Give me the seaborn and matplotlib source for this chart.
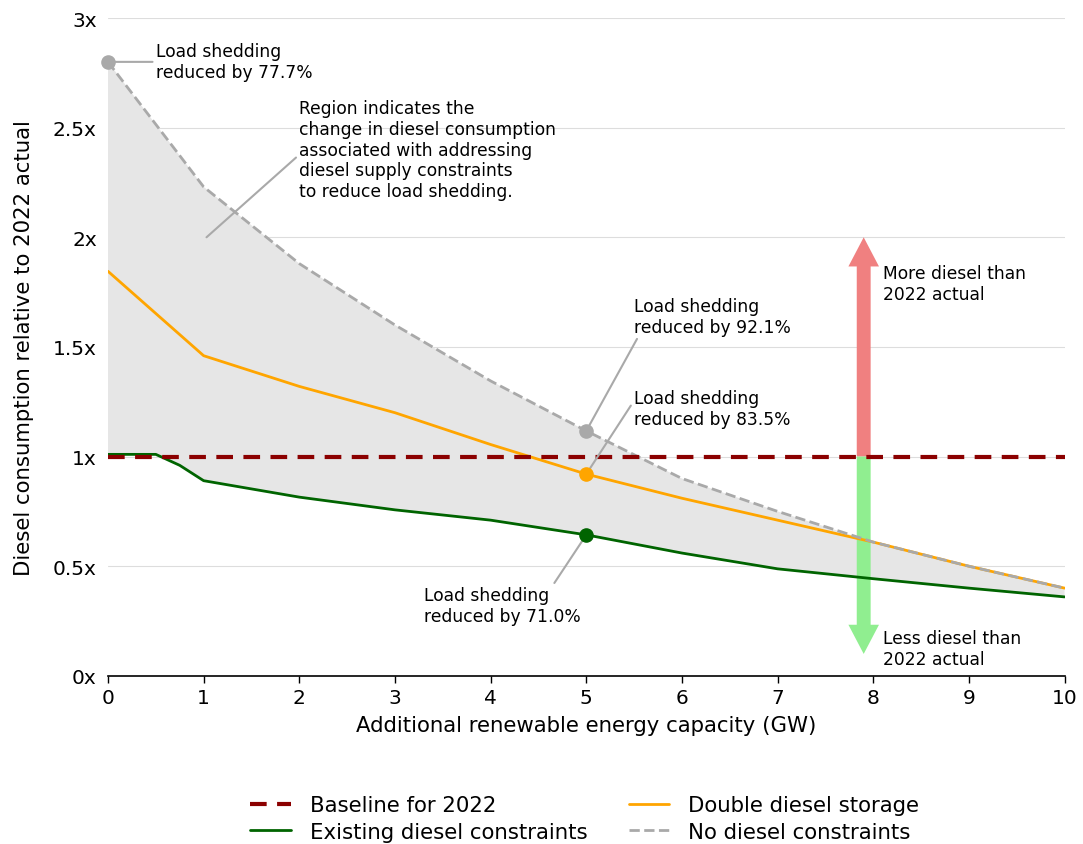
import numpy as np
import pandas as pd
import matplotlib
matplotlib.use("Agg")
import matplotlib.pyplot as plt
import seaborn as sns

sns.set_style("white")
plt.rcParams['font.family'] = ['DejaVu Sans']
plt.rcParams['text.color'] = 'black'
plt.rcParams['axes.labelcolor'] = 'black'
plt.rcParams['xtick.color'] = 'black'
plt.rcParams['ytick.color'] = 'black'

# ----------------------------
# Data
# ----------------------------
capacity = [0, 1, 2, 3, 4, 5, 6, 7, 8, 9, 10]
no_constraints = [2.80, 2.23, 1.88, 1.60, 1.345, 1.117, 0.90, 0.75, 0.61, 0.50, 0.40]
double_storage = [1.845, 1.46, 1.32, 1.20, 1.055, 0.92, 0.81, 0.71, 0.61, 0.50, 0.40]

capacity_existing = [0, 0.25, 0.5, 0.75, 1, 2, 3, 4, 5, 6, 7, 8, 9, 10]
existing = [1.01, 1.01, 1.01, 0.96, 0.89, 0.815, 0.757, 0.71, 0.643, 0.56, 0.488, 0.443, 0.40, 0.36]

baseline_x = [0, 10]
baseline_y = [1.0, 1.0]

y_ticks = [0, 0.5, 1, 1.5, 2, 2.5, 3]
y_ticklabels = ["0x", "0.5x", "1x", "1.5x", "2x", "2.5x", "3x"]

# annotated points: (x, y, text, text position, colour, leader attach point on text)
notes = [
    (0, 2.80, "Load shedding\nreduced by 77.7%", (0.5, 2.80), "darkgray", (0, 0.5)),
    (5, 1.117, "Load shedding\nreduced by 92.1%", (5.5, 1.64), "darkgray", (0.03, 0.0)),
    (5, 0.92, "Load shedding\nreduced by 83.5%", (5.5, 1.22), "orange", (0.0, 0.7)),
    (5, 0.643, "Load shedding\nreduced by 71.0%", (3.3, 0.32), "darkgreen", (0.82, 1.0)),
]

lines = pd.concat([
    pd.DataFrame({"x": baseline_x, "y": baseline_y, "series": "Baseline for 2022"}),
    pd.DataFrame({"x": capacity_existing, "y": existing, "series": "Existing diesel constraints"}),
    pd.DataFrame({"x": capacity, "y": double_storage, "series": "Double diesel storage"}),
    pd.DataFrame({"x": capacity, "y": no_constraints, "series": "No diesel constraints"}),
])

palette = {
    "Baseline for 2022": "darkred",
    "Existing diesel constraints": "darkgreen",
    "Double diesel storage": "orange",
    "No diesel constraints": "darkgray",
}

fig = plt.figure(figsize=(10.83, 8.45), dpi=100)
ax = fig.add_axes([0.0997, 0.199, 0.8833, 0.7785])

# shaded region between no-constraint and existing-constraint curves
poly_x = list(capacity) + list(capacity_existing[::-1])
poly_y = list(no_constraints) + list(existing[::-1])
ax.fill(poly_x, poly_y, color="#e6e6e6", zorder=1, lw=0)

for name in ["Existing diesel constraints", "Double diesel storage", "No diesel constraints"]:
    d = lines[lines.series == name]
    sns.lineplot(data=d, x="x", y="y", ax=ax, color=palette[name], lw=2,
                 linestyle="--" if name == "No diesel constraints" else "-",
                 label=name, zorder=3, estimator=None, sort=False)

d = lines[lines.series == "Baseline for 2022"]
sns.lineplot(data=d, x="x", y="y", ax=ax, color="darkred", lw=3, linestyle=(0, (4, 2.5)),
             label="Baseline for 2022", zorder=4, estimator=None)

# arrows
ax.annotate("", xy=(7.9, 2.0), xytext=(7.9, 1.0),
            arrowprops=dict(width=10, headwidth=22, headlength=21, color="lightcoral", lw=0), zorder=2)
ax.annotate("", xy=(7.9, 0.10), xytext=(7.9, 1.0),
            arrowprops=dict(width=10, headwidth=22, headlength=21, color="lightgreen", lw=0), zorder=2)
ax.text(8.1, 1.79, "More diesel than\n2022 actual", fontsize=12.3, va="center", ha="left")
ax.text(8.1, 0.125, "Less diesel than\n2022 actual", fontsize=12.3, va="center", ha="left")

for px, py, txt, pos, col, rp in notes:
    ax.scatter([px], [py], s=90, color=col, zorder=6, clip_on=False)
    ax.annotate(txt, xy=(px, py), xytext=pos, fontsize=12.3, va="center", ha="left", zorder=5,
                arrowprops=dict(arrowstyle="-", color="darkgray", lw=1.5, shrinkA=0, shrinkB=0,
                                relpos=rp))

ax.annotate("Region indicates the\nchange in diesel consumption\nassociated with addressing\ndiesel supply constraints\nto reduce load shedding.",
            xy=(1.03, 2.0), xytext=(2.0, 2.4), fontsize=12.3, va="center", ha="left", zorder=5,
            arrowprops=dict(arrowstyle="-", color="darkgray", lw=1.5, shrinkA=0, shrinkB=0,
                            relpos=(0, 0.45)))

ax.set_xlim(0, 10)
ax.set_ylim(0, 3)
ax.set_xticks(range(0, 11))
ax.set_yticks(y_ticks)
ax.set_yticklabels(y_ticklabels)
ax.tick_params(axis="x", labelsize=14.5, length=5, width=1, bottom=True, direction="out")
ax.tick_params(axis="y", labelsize=14.5, length=0, pad=8)
ax.yaxis.grid(True, color="#dddddd", lw=0.8)
ax.set_axisbelow(True)
for s in ["top", "right", "left"]:
    ax.spines[s].set_visible(False)
ax.spines["bottom"].set_color("black")
ax.spines["bottom"].set_linewidth(1.2)
ax.set_xlabel("Additional renewable energy capacity (GW)", fontsize=15.3, labelpad=6)
ax.set_ylabel("Diesel consumption relative to 2022 actual", fontsize=15.3, labelpad=14)

handles, labels = ax.get_legend_handles_labels()
order = ["Baseline for 2022", "Existing diesel constraints", "Double diesel storage", "No diesel constraints"]
h = [handles[labels.index(o)] for o in order]
ax.get_legend().remove()
fig.legend(h, order, loc="center", bbox_to_anchor=(0.54, 0.030), ncol=2, frameon=False,
           fontsize=15.3, columnspacing=1.95, handlelength=1.9, handletextpad=0.9,
           labelspacing=0.3)

fig.savefig("out.png", dpi=100)
